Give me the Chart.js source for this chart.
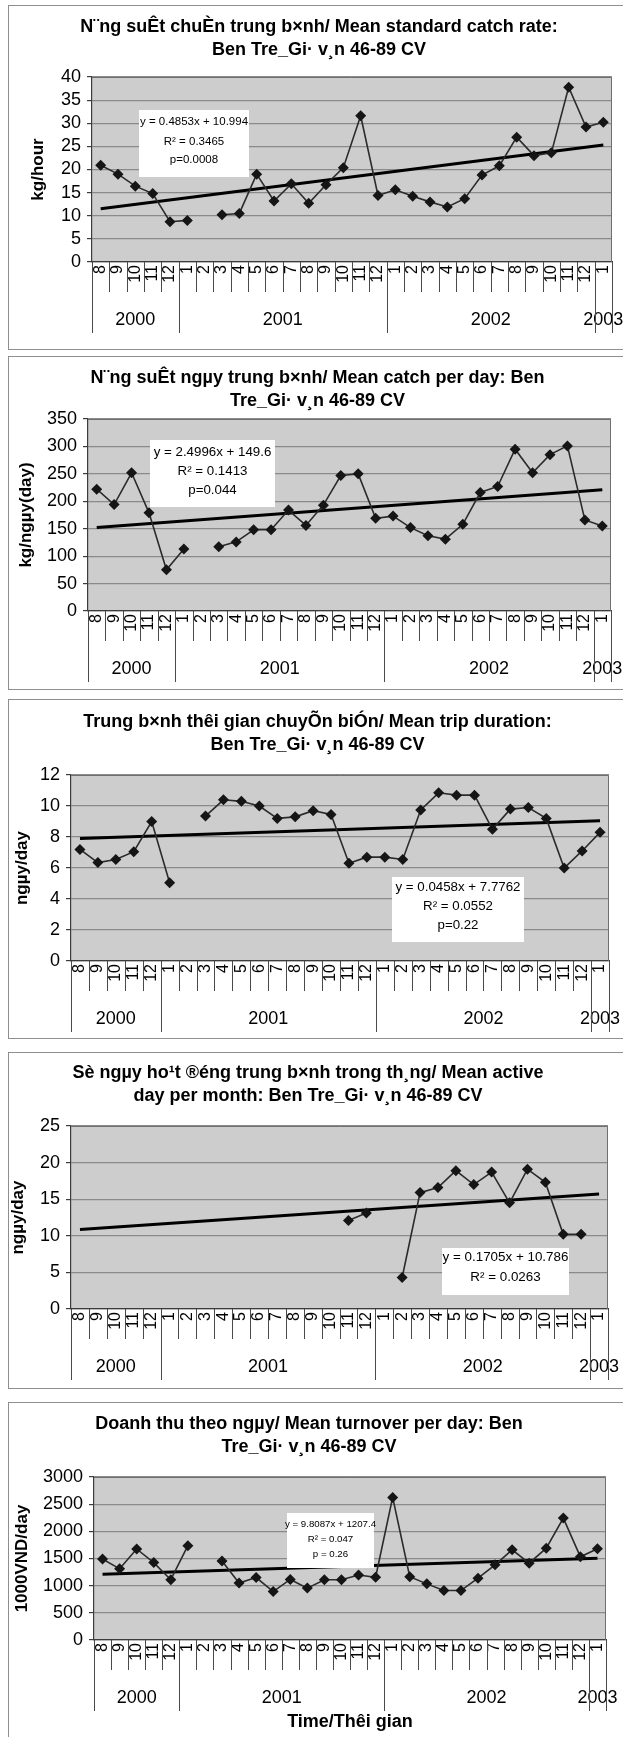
<!DOCTYPE html>
<html>
<head>
<meta charset="utf-8">
<script src="https://cdn.jsdelivr.net/npm/chart.js@4.4.1/dist/chart.umd.min.js"></script>
<style>
  html, body { margin: 0; padding: 0; background: #ffffff; }
  body { position: relative; width: 623px; height: 1737px; overflow: hidden; }
  .box { position: absolute; left: 8px; width: 700px; border: 1px solid #8e8e8e; box-sizing: border-box; }
  canvas { position: absolute; left: 0; display: block; }
</style>
</head>
<body>
<div class="box" id="b1"></div><canvas id="c1"></canvas>
<div class="box" id="b2"></div><canvas id="c2"></canvas>
<div class="box" id="b3"></div><canvas id="c3"></canvas>
<div class="box" id="b4"></div><canvas id="c4"></canvas>
<div class="box" id="b5"></div><canvas id="c5"></canvas>
<script>
// ---------------- DATA ----------------
const monthLabels = ['8','9','10','11','12','1','2','3','4','5','6','7','8','9','10','11','12','1','2','3','4','5','6','7','8','9','10','11','12','1'];
const yearLabels = ['2000','2001','2002','2003'];
const yearSpans = [5, 12, 12, 1];

// Mean standard catch rate (kg/hour)
const catchRate = [20.9, 19.0, 16.4, 14.8, 8.7, 9.0, null, 10.2, 10.5, 19.0, 13.2, 16.9, 12.7, 16.7, 20.4, 31.6, 14.4, 15.6, 14.2, 13.0, 11.9, 13.7, 18.8, 20.8, 27.0, 23.0, 23.6, 37.8, 29.2, 30.2];
const catchRateTrend = [11.5, 25.3];
const catchRateTicks = [0, 5, 10, 15, 20, 25, 30, 35, 40];

// Mean catch per day (kg/day)
const catchPerDay = [222, 194, 252, 179, 75, 113, null, 117, 126, 148, 148, 184, 156, 193, 247, 250, 169, 173, 152, 137, 131, 158, 216, 227, 295, 252, 285, 301, 166, 155];
const catchPerDayTrend = [152, 221];
const catchPerDayTicks = [0, 50, 100, 150, 200, 250, 300, 350];

// Mean trip duration (days)
const tripDuration = [7.2, 6.35, 6.55, 7.05, 9.0, 5.05, null, 9.35, 10.4, 10.3, 10.0, 9.2, 9.3, 9.7, 9.45, 6.3, 6.7, 6.7, 6.55, 9.75, 10.85, 10.7, 10.7, 8.5, 9.8, 9.9, 9.2, 6.0, 7.1, 8.3];
const tripDurationTrend = [7.9, 9.05];
const tripDurationTicks = [0, 2, 4, 6, 8, 10, 12];

// Mean active days per month
const activeDays = [null, null, null, null, null, null, null, null, null, null, null, null, null, null, null, 12.1, 13.1, null, 4.3, 15.9, 16.6, 18.9, 17.0, 18.7, 14.5, 19.1, 17.3, 10.2, 10.2, null];
const activeDaysTrend = [10.85, 15.7];
const activeDaysTicks = [0, 5, 10, 15, 20, 25];

// Mean turnover per day (1000 VND/day)
const turnover = [1490, 1310, 1675, 1425, 1110, 1735, null, 1455, 1047, 1150, 892, 1115, 955, 1110, 1110, 1195, 1155, 2625, 1165, 1033, 910, 910, 1137, 1383, 1660, 1414, 1690, 2244, 1531, 1678];
const turnoverTrend = [1211, 1506];
const turnoverTicks = [0, 500, 1000, 1500, 2000, 2500, 3000];

// ---------------- TEXTS ----------------
const titles = [
  ['N\u00A8ng su\u00CAt chu\u00C8n trung b\u00D7nh/ Mean standard catch rate:', 'Ben Tre_Gi\u00B7 v\u00B8n 46-89 CV'],
  ['N\u00A8ng su\u00CAt ng\u00B5y trung b\u00D7nh/ Mean catch per day: Ben', 'Tre_Gi\u00B7 v\u00B8n 46-89 CV'],
  ['Trung b\u00D7nh th\u00EAi gian chuy\u00D5n bi\u00D3n/ Mean trip duration:', 'Ben Tre_Gi\u00B7 v\u00B8n 46-89 CV'],
  ['S\u00E8 ng\u00B5y ho\u00B9t \u00AE\u00E9ng trung b\u00D7nh trong th\u00B8ng/ Mean active', 'day per month: Ben Tre_Gi\u00B7 v\u00B8n 46-89 CV'],
  ['Doanh thu theo ng\u00B5y/ Mean turnover per day: Ben', 'Tre_Gi\u00B7 v\u00B8n 46-89 CV']
];
const yTitles = ['kg/hour', 'kg/ng\u00B5y(day)', 'ng\u00B5y/day', 'ng\u00B5y/day', '1000VND/day'];
const xTitle5 = 'Time/Th\u00EAi gian';
const eqTexts = [
  ['y = 0.4853x + 10.994', 'R\u00B2 = 0.3465', 'p=0.0008'],
  ['y = 2.4996x + 149.6', 'R\u00B2 = 0.1413', 'p=0.044'],
  ['y = 0.0458x + 7.7762', 'R\u00B2 = 0.0552', 'p=0.22'],
  ['y = 0.1705x + 10.786', 'R\u00B2 = 0.0263'],
  ['y = 9.8087x + 1207.4', 'R\u00B2 = 0.047', 'p = 0.26']
];

// ---------------- LAYOUT (page pixels) ----------------
const layouts = [
  {boxTop: 5,    boxBottom: 350,  L: 92, R: 612, T: 77,   B: 262,  titleX: 319,   titleY: 27,   yTitleX: 38,
   eq: {x: 139, y: 110,  w: 110, h: 67, ys: [122, 142, 160],   size: 11.5}},
  {boxTop: 356,  boxBottom: 690,  L: 88, R: 611, T: 419,  B: 611,  titleX: 317.5, titleY: 378,  yTitleX: 26,
   eq: {x: 150, y: 440,  w: 125, h: 67, ys: [452, 471, 490],   size: 13.3}},
  {boxTop: 699,  boxBottom: 1039, L: 71, R: 609, T: 775,  B: 961,  titleX: 317.5, titleY: 722,  yTitleX: 22,
   eq: {x: 392, y: 877,  w: 132, h: 65, ys: [887, 906, 925],   size: 13.3}},
  {boxTop: 1052, boxBottom: 1389, L: 71, R: 608, T: 1126, B: 1309, titleX: 308,   titleY: 1073, yTitleX: 18,
   eq: {x: 442, y: 1248, w: 127, h: 47, ys: [1257, 1277],      size: 13.4}},
  {boxTop: 1402, boxBottom: 1737, L: 94, R: 606, T: 1477, B: 1640, titleX: 309,   titleY: 1424, yTitleX: 22,
   eq: {x: 287, y: 1513, w: 87,  h: 55, ys: [1524, 1539, 1554], size: 9.7}}
];

// ---------------- PLUGINS ----------------
const FONT = '"Liberation Sans", Arial, Helvetica, sans-serif';
Chart.defaults.font.family = FONT;
Chart.defaults.color = '#000000';

const plotArea = {
  id: 'plotArea',
  beforeDraw(chart) {
    const {ctx, chartArea: a} = chart;
    ctx.save();
    ctx.fillStyle = '#cdcdcd';
    ctx.fillRect(a.left, a.top, a.right - a.left, a.bottom - a.top);
    ctx.restore();
  },
  beforeDatasetsDraw(chart) {
    const {ctx, chartArea: a} = chart;
    ctx.save();
    ctx.strokeStyle = '#6f6f6f';
    ctx.lineWidth = 1;
    ctx.beginPath();
    ctx.moveTo(a.left, Math.round(a.top) + 0.5);
    ctx.lineTo(Math.round(a.right) - 0.5, Math.round(a.top) + 0.5);
    ctx.lineTo(Math.round(a.right) - 0.5, a.bottom);
    ctx.stroke();
    ctx.restore();
  }
};

const axisDecor = {
  id: 'axisDecor',
  afterDraw(chart, args, o) {
    const xs = chart.scales.x, ctx = chart.ctx, B = chart.chartArea.bottom;
    const n = monthLabels.length;
    const bounds = new Set([0]);
    let acc = 0;
    yearSpans.forEach(s => { acc += s; bounds.add(acc); });
    ctx.save();
    ctx.font = '18px ' + FONT;
    ctx.fillStyle = '#000';
    ctx.textAlign = 'center';
    ctx.textBaseline = 'middle';
    let start = 0;
    yearLabels.forEach((yl, k) => {
      const end = start + yearSpans[k];
      const x = (xs.getPixelForValue(start - 0.5) + xs.getPixelForValue(end - 0.5)) / 2;
      ctx.fillText(yl, x, B + o.yearLabel);
      start = end;
    });
    ctx.strokeStyle = '#4a4a4a';
    ctx.lineWidth = 1;
    for (let i = 0; i <= n; i++) {
      const x = Math.round(xs.getPixelForValue(i - 0.5)) + 0.5;
      const len = bounds.has(i) ? o.yearLine : o.monthLine;
      ctx.beginPath();
      ctx.moveTo(x, B);
      ctx.lineTo(x, B + len);
      ctx.stroke();
    }
    ctx.restore();
  }
};

const eqBox = {
  id: 'eqBox',
  afterDatasetsDraw(chart, args, o) {
    const ctx = chart.ctx;
    ctx.save();
    ctx.fillStyle = '#ffffff';
    ctx.fillRect(o.x, o.y, o.w, o.h);
    ctx.fillStyle = '#000';
    ctx.font = o.size + 'px ' + FONT;
    ctx.textAlign = 'center';
    ctx.textBaseline = 'middle';
    o.lines.forEach((t, i) => ctx.fillText(t, o.x + o.w / 2, o.ys[i]));
    ctx.restore();
  }
};

// ---------------- CHART BUILDER ----------------
function trendSeries(ends) {
  return monthLabels.map((_, i) => i === 0 ? ends[0] : (i === monthLabels.length - 1 ? ends[1] : null));
}

function makeChart(idx, values, trend, ticks, showXTitle) {
  const cfg = layouts[idx];
  const W = 623, H = cfg.boxBottom - cfg.boxTop;
  const box = document.getElementById('b' + (idx + 1));
  box.style.top = cfg.boxTop + 'px';
  box.style.height = (cfg.boxBottom === 1737 ? 400 : (cfg.boxBottom - cfg.boxTop)) + 'px';
  const canvas = document.getElementById('c' + (idx + 1));
  canvas.width = W; canvas.height = H;
  canvas.style.width = W + 'px'; canvas.style.height = H + 'px';
  canvas.style.top = cfg.boxTop + 'px';

  const pr = W - cfg.R;
  const pl = 2 * cfg.titleX - W + pr;
  const yW = cfg.L - pl;
  const xH = H - (cfg.B - cfg.boxTop);
  const tLH = 23;
  const tTop = (cfg.titleY - cfg.boxTop) - tLH / 2;
  const tBottom = (cfg.T - cfg.boxTop) - tTop - 2 * tLH;
  const yTitleLH = 17 * 1.2;
  const yTitlePad = cfg.yTitleX - pl - yTitleLH / 2;
  const off = cfg.boxTop;
  const e = cfg.eq;

  return new Chart(canvas, {
    type: 'line',
    data: {
      labels: monthLabels,
      datasets: [
        {
          data: values,
          borderColor: '#2b2b2b',
          borderWidth: 1.6,
          pointStyle: 'rectRot',
          pointRadius: 5.5,
          pointBackgroundColor: '#151515',
          pointBorderColor: '#151515',
          pointBorderWidth: 0,
          spanGaps: false,
          tension: 0
        },
        {
          data: trendSeries(trend),
          borderColor: '#000000',
          borderWidth: 3,
          pointRadius: 0,
          spanGaps: true,
          tension: 0
        }
      ]
    },
    options: {
      responsive: false,
      animation: false,
      devicePixelRatio: 1,
      layout: {padding: {left: pl, right: pr, top: 0, bottom: 0}},
      plugins: {
        legend: {display: false},
        tooltip: {enabled: false},
        title: {
          display: true,
          text: titles[idx],
          color: '#000',
          font: {size: 18, weight: 'bold', family: FONT, lineHeight: tLH / 18},
          padding: {top: tTop, bottom: tBottom}
        },
        axisDecor: {monthLine: 30, yearLabel: 58, yearLine: 71},
        eqBox: {x: e.x, y: e.y - off, w: e.w, h: e.h, ys: e.ys.map(v => v - off), size: e.size, lines: eqTexts[idx]}
      },
      scales: {
        x: {
          type: 'category',
          offset: true,
          grid: {display: false, drawTicks: false, tickLength: 0, offset: true},
          border: {display: true, color: '#3c3c3c', width: 1.2},
          ticks: {autoSkip: false, minRotation: 90, maxRotation: 90, padding: 3, color: '#000',
                  font: {size: 16, family: FONT}},
          title: {display: !!showXTitle, text: xTitle5, color: '#000',
                  font: {size: 18, weight: 'bold', family: FONT}, padding: {top: 0, bottom: 4.2}},
          afterFit(s) { s.height = xH; s.paddingLeft = 0; s.paddingRight = 0; }
        },
        y: {
          min: ticks[0],
          max: ticks[ticks.length - 1],
          grid: {color: '#8a8a8a', lineWidth: 1.2, tickLength: 5, tickColor: '#3c3c3c', drawTicks: true},
          border: {display: true, color: '#3c3c3c', width: 1.2},
          ticks: {stepSize: ticks[1] - ticks[0], autoSkip: false, padding: 6, color: '#000',
                  font: {size: 18, family: FONT}, callback: v => String(v)},
          afterBuildTicks(s) { s.ticks = ticks.map(v => ({value: v})); },
          title: {display: true, text: yTitles[idx], color: '#000',
                  font: {size: 17, weight: 'bold', family: FONT}, padding: {top: yTitlePad, bottom: 0}},
          afterFit(s) { s.width = yW; s.paddingTop = 0; s.paddingBottom = 0; }
        }
      }
    },
    plugins: [plotArea, axisDecor, eqBox]
  });
}

makeChart(0, catchRate, catchRateTrend, catchRateTicks, false);
makeChart(1, catchPerDay, catchPerDayTrend, catchPerDayTicks, false);
makeChart(2, tripDuration, tripDurationTrend, tripDurationTicks, false);
makeChart(3, activeDays, activeDaysTrend, activeDaysTicks, false);
makeChart(4, turnover, turnoverTrend, turnoverTicks, true);
</script>
</body>
</html>
